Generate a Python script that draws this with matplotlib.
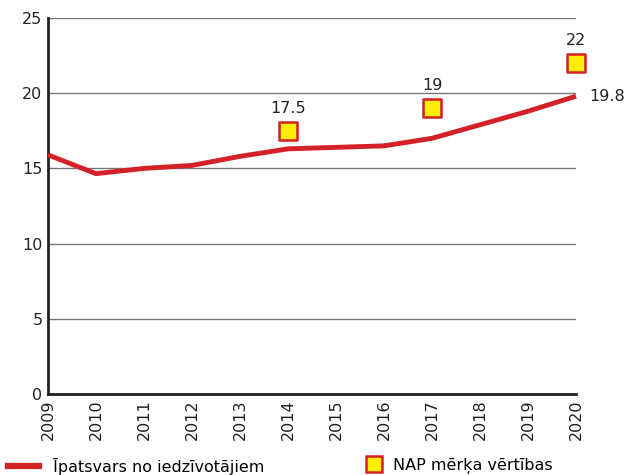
import matplotlib.pyplot as plt
from matplotlib.lines import Line2D

# --- Data ---
years = [2009, 2010, 2011, 2012, 2013, 2014, 2015, 2016, 2017, 2018, 2019, 2020]
share = [15.9, 14.65, 15.0, 15.2, 15.8, 16.3, 16.4, 16.5, 17.0, 17.9, 18.8, 19.8]
target_years = [2014, 2017, 2020]
target_vals = [17.5, 19, 22]

RED = '#d42027'
YELLOW = '#ffee00'
FS = 11.5
plt.rcParams['font.family'] = 'DejaVu Sans'

fig = plt.figure(figsize=(6.29, 4.75), dpi=100)
ax = fig.add_axes([48/629, 1 - 394/475, 528/629, 376/475])

ax.set_xlim(2009, 2020)
ax.set_ylim(0, 25)
ax.set_yticks([0, 5, 10, 15, 20, 25])
ax.set_xticks(years)
ax.set_xticklabels([str(y) for y in years], rotation=90)
ax.yaxis.grid(True, color='#777777', linewidth=1)
ax.set_axisbelow(True)
for side in ['top', 'right']:
    ax.spines[side].set_visible(False)
for side in ['left', 'bottom']:
    ax.spines[side].set_linewidth(2)
    ax.spines[side].set_color('#222222')
ax.tick_params(length=0, labelsize=FS, colors='#222222', pad=4)

ax.plot(years, share, color=RED, linewidth=3.5, solid_capstyle='butt', clip_on=False, zorder=3)
ax.text(years[-1] + 0.28, share[-1], f'{share[-1]:g}', va='center', ha='left', fontsize=FS, color='#222222')

ax.scatter(target_years, target_vals, marker='s', s=150, facecolor=YELLOW, edgecolor=RED,
           linewidth=1.8, zorder=4, clip_on=False)
for x, v in zip(target_years, target_vals):
    ax.annotate(f'{v:g}', (x, v), xytext=(0, 11), textcoords='offset points',
                ha='center', va='bottom', fontsize=FS, color='#222222')

# legend along the bottom
handles = [Line2D([], [], color=RED, linewidth=4.5),
           Line2D([], [], marker='s', linestyle='none', markersize=11.5, markerfacecolor=YELLOW,
                  markeredgecolor=RED, markeredgewidth=1.8)]
labels = ['Īpatsvars no iedzīvotājiem', 'NAP mērķa vērtības']
fig.legend(handles[:1], labels[:1], loc='center left', bbox_to_anchor=(8/629, 9/475),
           frameon=False, fontsize=FS, handlelength=1.95, handletextpad=0.85,
           borderpad=0, borderaxespad=0)
fig.legend(handles[1:], labels[1:], loc='center left', bbox_to_anchor=(364/629, 9/475),
           frameon=False, fontsize=FS, handlelength=1.2, handletextpad=0.6,
           borderpad=0, borderaxespad=0)

fig.savefig('out.png', dpi=100)
